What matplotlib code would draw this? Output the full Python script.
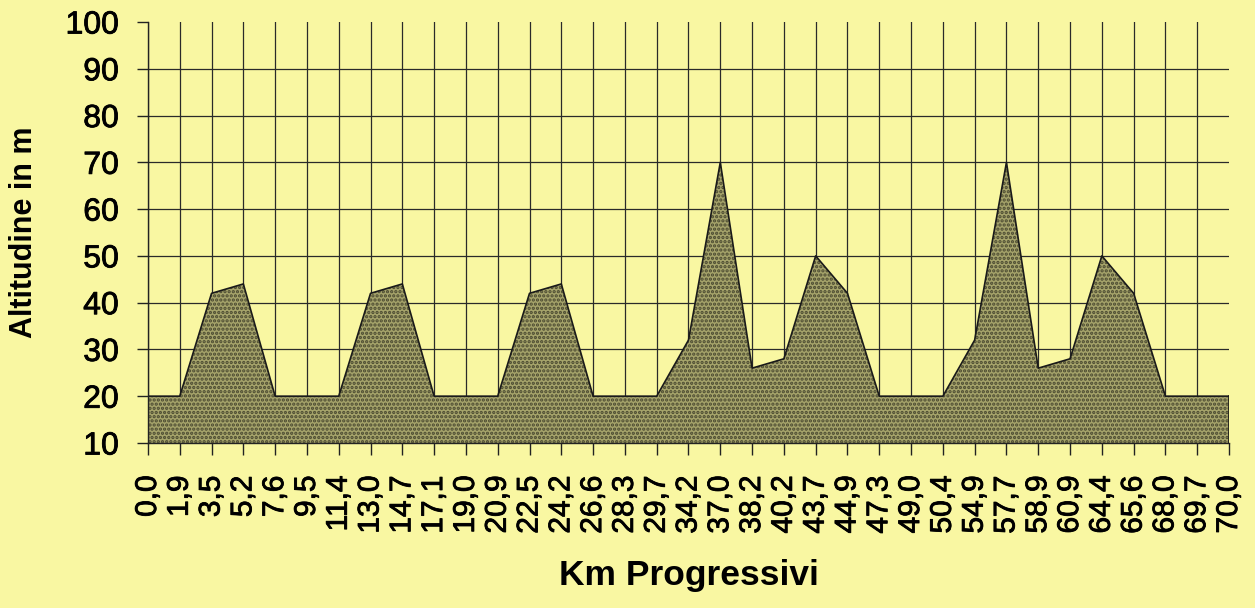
import numpy as np
import matplotlib.pyplot as plt
import matplotlib.patheffects as pe

km_labels = ['0,0', '1,9', '3,5', '5,2', '7,6', '9,5', '11,4', '13,0', '14,7', '17,1',
             '19,0', '20,9', '22,5', '24,2', '26,6', '28,3', '29,7', '34,2', '37,0', '38,2',
             '40,2', '43,7', '44,9', '47,3', '49,0', '50,4', '54,9', '57,7', '58,9', '60,9',
             '64,4', '65,6', '68,0', '69,7', '70,0']
altitude = [20, 20, 42, 44, 20, 20, 20, 42, 44, 20,
            20, 20, 42, 44, 20, 20, 20, 32, 70, 26,
            28, 50, 42, 20, 20, 20, 32, 70, 26, 28,
            50, 42, 20, 20, 20]
y_ticks = [10, 20, 30, 40, 50, 60, 70, 80, 90, 100]

bg = '#f9f7a2'
plt.rcParams['font.family'] = ['Liberation Sans', 'DejaVu Sans']
plt.rcParams['hatch.linewidth'] = 1.6
thick = [pe.withStroke(linewidth=0.6, foreground='black')]

fig = plt.figure(figsize=(12.55, 6.08), dpi=100, facecolor=bg)
ax = fig.add_axes([0.1179, 0.2714, 0.9793 - 0.1179, 0.9638 - 0.2714])
ax.set_facecolor(bg)

x = np.arange(len(altitude))
ax.fill_between(x, 10, altitude, facecolor='#a5a36a', edgecolor='#4a4930',
                hatch='....', linewidth=0, zorder=2)
ax.plot(x, altitude, color='#1a1a1a', linewidth=1.2, zorder=3)
ax.plot([x[-1], x[-1]], [10, altitude[-1]], color='#1a1a1a', linewidth=1.2, zorder=3)

ax.set_xlim(0, len(altitude) - 1)
ax.set_ylim(10, 100)
ax.set_yticks(y_ticks)
ax.set_xticks(x)
ax.set_xticklabels(km_labels, rotation=90, fontsize=21.5)
ax.tick_params(axis='y', labelsize=23, length=8, width=1, color='#222222', pad=13)
ax.tick_params(axis='x', length=8.5, width=1, color='#222222', pad=15)
for lab in ax.get_xticklabels() + ax.get_yticklabels():
    lab.set_path_effects(thick)

ax.grid(True, color='#2a2a2a', linewidth=0.9, zorder=1)
ax.set_axisbelow(True)
ax.get_ygridlines()[-1].set_visible(False)
ax.get_xgridlines()[-1].set_visible(False)

for side in ['top', 'right']:
    ax.spines[side].set_visible(False)
for side in ['left', 'bottom']:
    ax.spines[side].set_linewidth(1)
    ax.spines[side].set_color('#222222')
    ax.spines[side].set_zorder(4)

ax.set_xlabel('Km Progressivi', fontsize=25.5, fontweight='bold', va='baseline')
ax.xaxis.set_label_coords(0.5, -0.337)
ax.set_ylabel('Altitudine in m', fontsize=22, fontweight='bold', va='center')
ax.yaxis.set_label_coords(-0.1147, 0.5)

fig.savefig('out.png', dpi=100, facecolor=bg)
